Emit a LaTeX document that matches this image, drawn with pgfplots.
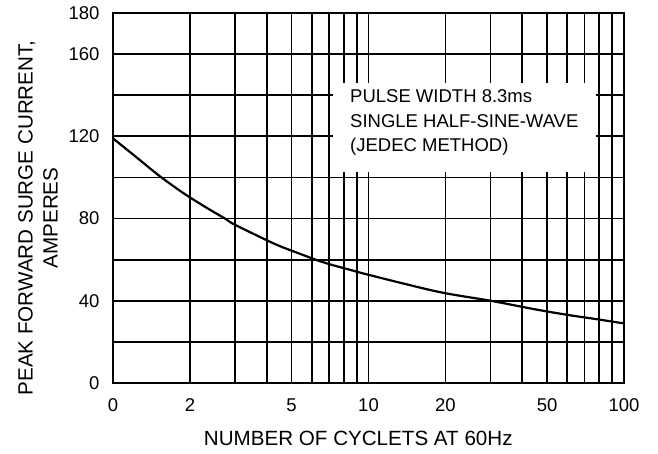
\documentclass[border=0pt]{standalone}
\usepackage{fontspec}
\setmainfont{Liberation Sans}
\usepackage{pgfplots}
\pgfplotsset{compat=1.18}
\begin{document}
\begin{tikzpicture}
\begin{axis}[
  scale only axis, width=511pt, height=370pt,
  xmode=log, log basis x=10,
  xmin=1, xmax=100, ymin=0, ymax=180,
  xtick={1,2,5,10,20,50,100}, xticklabels={0,2,5,10,20,50,100},
  minor xtick={3,4,6,7,8,9,30,40,60,70,80,90},
  ytick={0,40,80,120,160,180}, minor ytick={20,60,100,140},
  grid=both,
  major grid style={black, line width=1.7pt},
  minor grid style={black, line width=1.7pt},
  axis line style={black, line width=1.7pt},
  major tick length=0pt, minor tick length=0pt,
  font=\fontsize{18.5}{22}\selectfont,
  /pgf/number format/assume math mode=true,
  xticklabel style={anchor=base, yshift=-29pt},
  yticklabel style={xshift=-10pt},
  xlabel={NUMBER OF CYCLETS AT 60Hz},
  xlabel style={at={(rel axis cs:0.48,0)}, anchor=base, yshift=-63pt, font=\fontsize{20.6}{25}\selectfont},
  ylabel={PEAK FORWARD SURGE CURRENT,\\AMPERES},
  ylabel style={at={([xshift=-75pt]rel axis cs:0,0.446)}, anchor=center, align=center, font=\fontsize{20.6}{25}\selectfont},
  clip=false,
]
\addplot[black, line width=2.2pt, smooth] coordinates {
 (1,119) (1.25,109.3) (1.518,100.8) (1.879,92.5) (2.30,85.6) (2.743,80) (3.0,77.0) (4.27,67.8)
 (5.30,63.2) (6.34,59.6) (7.26,57.3) (8.39,55.2) (9.95,52.7) (18.7,44.4)
 (30.1,40) (42.9,36.3) (52.2,34.4) (62.5,32.8) (72.9,31.6) (83.5,30.5)
 (93.9,29.5) (100,29)
};
\node[fill=white, anchor=north west, inner sep=0pt, minimum width=263pt, minimum height=89pt] at (rel axis cs:0.4305,0.8108) {};
\node[anchor=base west, inner sep=0pt] at (rel axis cs:0.4638,0.7568) {PULSE WIDTH 8.3ms};
\node[anchor=base west, inner sep=0pt] at (rel axis cs:0.4638,0.6892) {SINGLE HALF-SINE-WAVE};
\node[anchor=base west, inner sep=0pt] at (rel axis cs:0.4638,0.6270) {(JEDEC METHOD)};
\coordinate (ll) at (rel axis cs:0,0);
\coordinate (ur) at (rel axis cs:1,1);
\end{axis}
\path ([shift={(-113pt,-71pt)}]ll) rectangle ([shift={(34pt,13pt)}]ur);
\end{tikzpicture}
\end{document}
